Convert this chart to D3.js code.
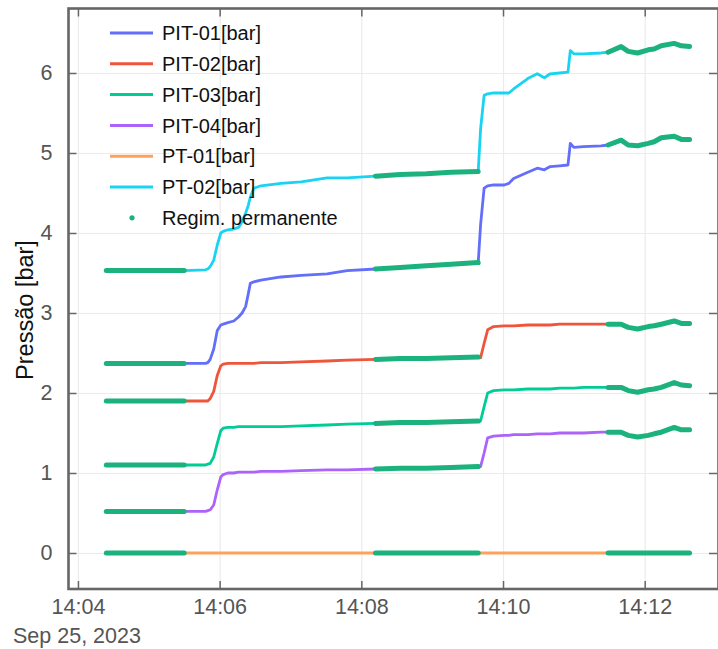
<!DOCTYPE html>
<html>
<head>
<meta charset="utf-8">
<script src="https://cdn.jsdelivr.net/npm/d3@7"></script>
<style>
  html, body { margin: 0; padding: 0; background: #fff; }
  svg { display: block; font-family: "Liberation Sans", Arial, sans-serif; }
</style>
</head>
<body>
<svg id="chart" width="718" height="649"></svg>
<script>
// ---- data (seconds after 14:04:00, Sep 25 2023) ----
const times = [24, 57, 90, 108, 110, 112, 115, 118, 121, 123, 127, 132, 136, 139, 142, 144, 146, 149, 155, 172,
  189, 211, 228, 252, 273, 295, 316, 339, 341, 344, 347, 352, 361, 365, 369, 381, 389, 395, 400, 408,
  415, 417, 420, 428, 443, 449, 460, 466, 474, 483, 488, 494, 505, 511, 518];

const pit01 = [2.37, 2.37, 2.37, 2.37, 2.38, 2.42, 2.55, 2.78, 2.85, 2.86, 2.88, 2.90, 2.95, 3.00, 3.08, 3.22, 3.37, 3.39, 3.41, 3.45,
  3.47, 3.49, 3.53, 3.55, 3.57, 3.59, 3.61, 3.63, 4.10, 4.56, 4.59, 4.60, 4.60, 4.62, 4.68, 4.76, 4.81, 4.79, 4.83, 4.84,
  4.85, 5.12, 5.07, 5.08, 5.09, 5.10, 5.16, 5.10, 5.09, 5.12, 5.14, 5.19, 5.21, 5.17, 5.17];

const pit02 = [1.90, 1.90, 1.90, 1.90, 1.90, 1.93, 2.02, 2.22, 2.34, 2.36, 2.37, 2.37, 2.37, 2.37, 2.37, 2.37, 2.37, 2.37, 2.38, 2.38,
  2.39, 2.40, 2.41, 2.42, 2.43, 2.43, 2.44, 2.45, 2.44, 2.62, 2.79, 2.83, 2.84, 2.84, 2.84, 2.85, 2.85, 2.85, 2.85, 2.86,
  2.86, 2.86, 2.86, 2.86, 2.86, 2.86, 2.86, 2.82, 2.80, 2.83, 2.84, 2.86, 2.90, 2.87, 2.87];

const pit03 = [1.10, 1.10, 1.10, 1.10, 1.11, 1.12, 1.20, 1.37, 1.53, 1.56, 1.57, 1.57, 1.58, 1.58, 1.58, 1.58, 1.58, 1.58, 1.58, 1.58,
  1.59, 1.60, 1.61, 1.62, 1.63, 1.63, 1.64, 1.65, 1.65, 1.83, 2.00, 2.03, 2.04, 2.04, 2.04, 2.05, 2.05, 2.05, 2.05, 2.06,
  2.06, 2.06, 2.06, 2.07, 2.07, 2.07, 2.07, 2.03, 2.01, 2.04, 2.05, 2.07, 2.13, 2.10, 2.09];

const pit04 = [0.52, 0.52, 0.52, 0.52, 0.53, 0.54, 0.60, 0.79, 0.95, 0.98, 1.00, 1.00, 1.01, 1.01, 1.01, 1.01, 1.01, 1.01, 1.02, 1.02,
  1.03, 1.04, 1.04, 1.05, 1.06, 1.06, 1.07, 1.08, 1.08, 1.25, 1.44, 1.46, 1.47, 1.47, 1.48, 1.48, 1.49, 1.49, 1.49, 1.50,
  1.50, 1.50, 1.50, 1.50, 1.51, 1.51, 1.51, 1.47, 1.45, 1.47, 1.49, 1.51, 1.57, 1.54, 1.54];

const pt01 = [0, 0, 0, 0, 0, 0, 0, 0, 0, 0, 0, 0, 0, 0, 0, 0, 0, 0, 0, 0,
  0, 0, 0, 0, 0, 0, 0, 0, 0, 0, 0, 0, 0, 0, 0, 0, 0, 0, 0, 0,
  0, 0, 0, 0, 0, 0, 0, 0, 0, 0, 0, 0, 0, 0, 0];

const pt02 = [3.53, 3.53, 3.53, 3.54, 3.55, 3.58, 3.66, 3.85, 4.00, 4.02, 4.04, 4.05, 4.07, 4.14, 4.25, 4.33, 4.45, 4.56, 4.59, 4.62,
  4.64, 4.69, 4.69, 4.71, 4.73, 4.74, 4.76, 4.77, 5.30, 5.72, 5.74, 5.75, 5.75, 5.75, 5.80, 5.93, 5.99, 5.94, 5.99, 6.00,
  6.01, 6.28, 6.24, 6.24, 6.25, 6.26, 6.33, 6.27, 6.25, 6.29, 6.30, 6.34, 6.37, 6.34, 6.33];

const seriesNames = ["PIT-01[bar]", "PIT-02[bar]", "PIT-03[bar]", "PIT-04[bar]", "PT-01[bar]", "PT-02[bar]"];
const seriesValues = [pit01, pit02, pit03, pit04, pt01, pt02];
const seriesColors = ["#636efa", "#ef553b", "#00cc96", "#ab63fa", "#ffa15a", "#19d3f3"];

// steady-state windows (seconds after 14:04:00)
const steadyWindows = [[24, 90], [252, 339], [449, 518]];
const steadyLabel = "Regim. permanente";
const steadyColor = "#1bb27d";

const xTickMinutes = [4, 6, 8, 10, 12];
const yTicks = [0, 1, 2, 3, 4, 5, 6];
const yLabel = "Pressão [bar]";
const dateLabel = "Sep 25, 2023";

(function () {
// ---- layout ----
const toDate = s => new Date(2023, 8, 25, 14, 4, 0, 0).getTime() + s * 1000;
const mLeft = 68.5, mRight = 718.5, mTop = 8.5, mBottom = 589;

const x = d3.scaleTime()
  .domain([new Date(toDate(-8)), new Date(toDate(542.5))])
  .range([mLeft, mRight]);
const y = d3.scaleLinear().domain([-0.45, 6.806]).range([mBottom, mTop]);

const svg = d3.select("#chart");
const xTickDates = xTickMinutes.map(m => new Date(2023, 8, 25, 14, m, 0));
const fmt = d3.timeFormat("%H:%M");

// gridlines
const grid = svg.append("g").attr("class", "grid");
grid.append("g").attr("transform", `translate(0,${mBottom})`)
  .call(d3.axisBottom(x).tickValues(xTickDates).tickSize(-(mBottom - mTop)).tickFormat(""))
  .call(g => { g.select(".domain").remove(); g.selectAll("line").attr("stroke", "#ebebeb").attr("stroke-width", 1.2); });
grid.append("g").attr("transform", `translate(${mLeft},0)`)
  .call(d3.axisLeft(y).tickValues(yTicks).tickSize(-(mRight - mLeft)).tickFormat(""))
  .call(g => { g.select(".domain").remove(); g.selectAll("line").attr("stroke", "#ebebeb").attr("stroke-width", 1.2); });

// series lines
const line = d3.line().x(d => x(new Date(toDate(d[0])))).y(d => y(d[1]));
const plot = svg.append("g");
seriesValues.forEach((vals, i) => {
  const pts = times.map((t, k) => [t, vals[k]]);
  plot.append("path").datum(pts)
    .attr("d", line).attr("fill", "none")
    .attr("stroke", seriesColors[i]).attr("stroke-width", 2.8)
    .attr("stroke-linejoin", "round").attr("stroke-linecap", "round");
});

// steady-state markers
seriesValues.forEach(vals => {
  steadyWindows.forEach(([a, b]) => {
    const pts = times.map((t, k) => [t, vals[k]]).filter(d => d[0] >= a && d[0] <= b);
    plot.append("path").datum(pts)
      .attr("d", line).attr("fill", "none")
      .attr("stroke", steadyColor).attr("stroke-width", 5)
      .attr("stroke-linejoin", "round").attr("stroke-linecap", "round");
  });
});

// axes (box with inward ticks)
const axisColor = "#666";
function styleAxis(g) {
  g.select(".domain").remove();
  g.selectAll(".tick line").attr("stroke", axisColor).attr("stroke-width", 1.5);
  g.selectAll(".tick text").attr("fill", "#555").attr("font-size", 21.5)
    .attr("font-family", "'Liberation Sans', Arial, sans-serif");
}
svg.append("g").attr("transform", `translate(0,${mBottom})`)
  .call(d3.axisBottom(x).tickValues(xTickDates).tickFormat(fmt).tickSize(-8).tickPadding(10))
  .call(styleAxis);
svg.append("g").attr("transform", `translate(0,${mTop})`)
  .call(d3.axisTop(x).tickValues(xTickDates).tickFormat("").tickSize(-8))
  .call(styleAxis);
svg.append("g").attr("transform", `translate(${mLeft},0)`)
  .call(d3.axisLeft(y).tickValues(yTicks).tickFormat(d3.format("d")).tickSize(-8).tickPadding(16))
  .call(styleAxis);
svg.append("g").attr("transform", `translate(${mRight - 1.5},0)`)
  .call(d3.axisRight(y).tickValues(yTicks).tickFormat("").tickSize(-8))
  .call(styleAxis);

svg.append("rect")
  .attr("x", mLeft).attr("y", mTop).attr("width", mRight - mLeft).attr("height", mBottom - mTop)
  .attr("fill", "none").attr("stroke", axisColor).attr("stroke-width", 2.6);

// date label
svg.append("text").attr("x", 13).attr("y", 643)
  .attr("font-size", 21.5).attr("fill", "#555").text(dateLabel);

// y label
svg.append("text")
  .attr("transform", `translate(33,310) rotate(-90)`)
  .attr("text-anchor", "middle").attr("font-size", 23.5).attr("fill", "#111")
  .text(yLabel);

// legend
const legend = svg.append("g");
const legendItems = seriesNames.map((n, i) => ({ name: n, color: seriesColors[i], type: "line" }))
  .concat([{ name: steadyLabel, color: steadyColor, type: "dot" }]);
legendItems.forEach((d, i) => {
  const ly = 33 + i * 30.8;
  if (d.type === "line") {
    legend.append("line").attr("x1", 110).attr("x2", 153).attr("y1", ly).attr("y2", ly)
      .attr("stroke", d.color).attr("stroke-width", 3);
  } else {
    legend.append("circle").attr("cx", 132).attr("cy", ly).attr("r", 2.6).attr("fill", d.color);
  }
  legend.append("text").attr("x", 162).attr("y", ly).attr("dy", "0.36em")
    .attr("font-size", 20).attr("fill", "#111").text(d.name);
});
})();
</script>
</body>
</html>
